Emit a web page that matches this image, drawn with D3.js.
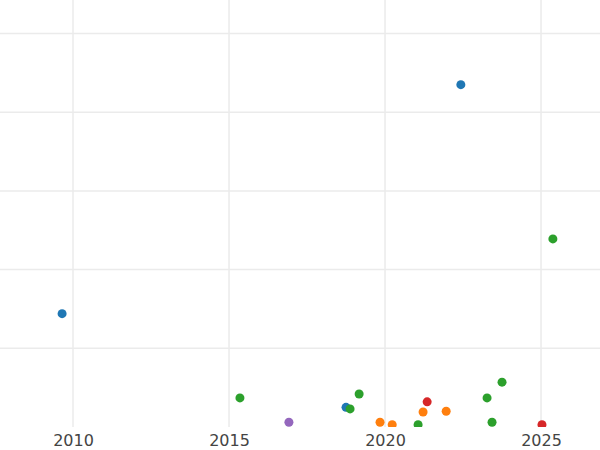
<!DOCTYPE html>
<html><head><meta charset="utf-8">
<script src="https://cdn.jsdelivr.net/npm/d3@7"></script>
<style>body{margin:0;background:#fff}</style>
</head><body>
<script>
var years = [2009.65, 2022.43, 2025.38, 2015.35, 2016.92, 2018.75, 2018.88, 2019.17, 2019.84, 2020.23, 2021.06, 2021.22, 2021.35, 2021.96, 2023.27, 2023.43, 2023.75, 2025.03];
var values = [1.44, 4.35, 2.39, 0.37, 0.06, 0.25, 0.23, 0.42, 0.06, 0.03, 0.03, 0.19, 0.32, 0.20, 0.37, 0.06, 0.57, 0.03];
var groups = ["blue","blue","green","green","purple","blue","green","green","orange","orange","green","orange","red","orange","green","green","green","red"];
var xTicks = [2010, 2015, 2020, 2025];
var yTicks = [1, 2, 3, 4, 5];

var width = 600, height = 450, plotBottom = 427;
var palette = {blue:"#1f77b4", green:"#2ca02c", orange:"#ff7f0e", red:"#d62728", purple:"#9467bd"};

var svg = d3.select("body").append("svg")
    .attr("width", width).attr("height", height);

var x = d3.scaleLinear().domain([2007.66, 2026.89]).range([0, width]);
var y = d3.scaleLinear().domain([0, 5.426]).range([plotBottom, 0]);

svg.append("defs").append("clipPath").attr("id", "clip")
  .append("rect").attr("width", width).attr("height", plotBottom);

svg.selectAll("line.vg").data(xTicks).enter().append("line")
    .attr("class", "vg")
    .attr("x1", d => x(d)).attr("x2", d => x(d))
    .attr("y1", 0).attr("y2", plotBottom)
    .attr("stroke", "#ebebeb").attr("stroke-width", 1.5);

svg.selectAll("line.hg").data(yTicks).enter().append("line")
    .attr("class", "hg")
    .attr("x1", 0).attr("x2", width)
    .attr("y1", d => y(d)).attr("y2", d => y(d))
    .attr("stroke", "#ebebeb").attr("stroke-width", 1.5);

var pts = years.map((d, i) => ({year: d, value: values[i], group: groups[i]}));
svg.append("g").attr("clip-path", "url(#clip)")
  .selectAll("circle").data(pts).enter().append("circle")
    .attr("cx", d => x(d.year))
    .attr("cy", d => y(d.value))
    .attr("r", 4.5)
    .attr("fill", d => palette[d.group]);

var xAxis = d3.axisBottom(x).tickValues(xTicks).tickFormat(d3.format("d")).tickSize(0).tickPadding(8);
var ax = svg.append("g").attr("transform", "translate(0," + plotBottom + ")").call(xAxis);
ax.select(".domain").remove();
ax.selectAll("text").attr("font-family", "DejaVu Sans").attr("font-size", 16).attr("fill", "#444");
</script>
</body></html>
